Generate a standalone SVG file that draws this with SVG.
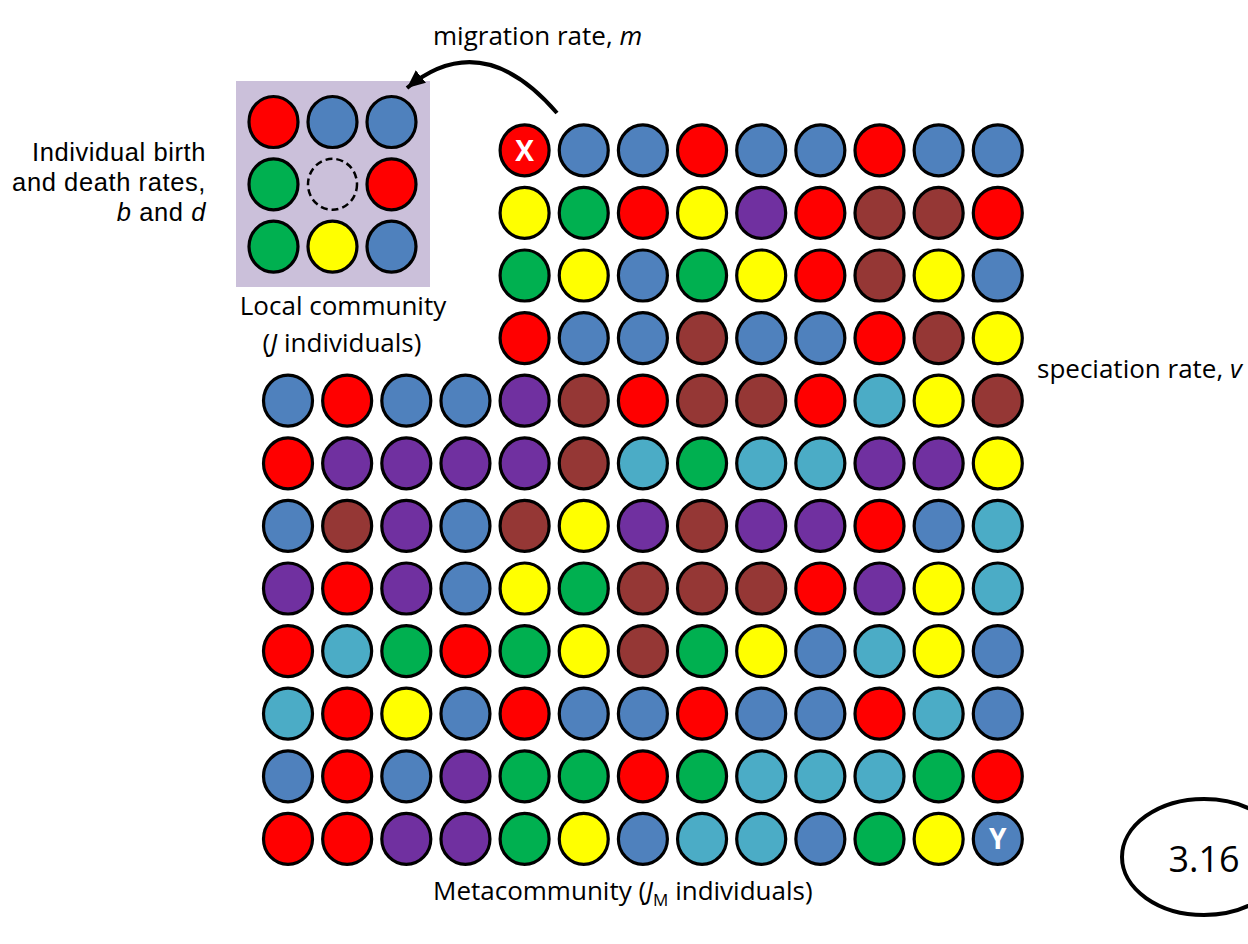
<svg xmlns="http://www.w3.org/2000/svg" width="1248" height="944" viewBox="0 0 1248 944">
<defs>
<style>
.c{stroke:#000;stroke-width:3.2}
.B{fill:#4F81BD}.R{fill:#FF0000}.G{fill:#00B050}.Y{fill:#FFFF00}.P{fill:#7030A0}.Br{fill:#953735}.C{fill:#4BACC6}
.t{font-family:"Open Sans","Noto Sans",sans-serif;font-size:26px;fill:#000}
.t2{font-family:"Liberation Sans",Arial,sans-serif;font-size:25.5px;letter-spacing:0.6px;fill:#000}
.lbl{font-family:"Open Sans","Noto Sans",sans-serif;font-size:28px;font-weight:bold;fill:#fff;text-anchor:middle}
</style>
<marker id="ah" markerUnits="userSpaceOnUse" markerWidth="20" markerHeight="18" refX="18" refY="8" orient="auto">
<path d="M0,0 L18,8 L0,16 z" fill="#000"/>
</marker>
<ellipse id="dot" rx="24.5" ry="25.5"/>
</defs>
<rect width="1248" height="944" fill="#fff"/>

<g id="local-community">
<rect x="236" y="81" width="194" height="206" fill="#CBC0DA"/>
<g class="c">
<use href="#dot" x="273.5" y="122" class="R"/>
<use href="#dot" x="332.5" y="122" class="B"/>
<use href="#dot" x="391.5" y="122" class="B"/>
<use href="#dot" x="273.5" y="184.3" class="G"/>
<use href="#dot" x="391.5" y="184.3" class="R"/>
<use href="#dot" x="273.5" y="246.6" class="G"/>
<use href="#dot" x="332.5" y="246.6" class="Y"/>
<use href="#dot" x="391.5" y="246.6" class="B"/>
</g>
<ellipse cx="332.5" cy="184.3" rx="24.5" ry="25.5" fill="none" stroke="#000" stroke-width="2.5" stroke-dasharray="7 4"/>
</g>

<g id="metacommunity" class="c">
<!-- row 0 -->
<use href="#dot" x="524.6" y="150.3" class="R"/><use href="#dot" x="583.75" y="150.3" class="B"/><use href="#dot" x="642.9" y="150.3" class="B"/><use href="#dot" x="702.05" y="150.3" class="R"/><use href="#dot" x="761.2" y="150.3" class="B"/><use href="#dot" x="820.35" y="150.3" class="B"/><use href="#dot" x="879.5" y="150.3" class="R"/><use href="#dot" x="938.65" y="150.3" class="B"/><use href="#dot" x="997.8" y="150.3" class="B"/>
<!-- row 1 -->
<use href="#dot" x="524.6" y="212.9" class="Y"/><use href="#dot" x="583.75" y="212.9" class="G"/><use href="#dot" x="642.9" y="212.9" class="R"/><use href="#dot" x="702.05" y="212.9" class="Y"/><use href="#dot" x="761.2" y="212.9" class="P"/><use href="#dot" x="820.35" y="212.9" class="R"/><use href="#dot" x="879.5" y="212.9" class="Br"/><use href="#dot" x="938.65" y="212.9" class="Br"/><use href="#dot" x="997.8" y="212.9" class="R"/>
<!-- row 2 -->
<use href="#dot" x="524.6" y="275.5" class="G"/><use href="#dot" x="583.75" y="275.5" class="Y"/><use href="#dot" x="642.9" y="275.5" class="B"/><use href="#dot" x="702.05" y="275.5" class="G"/><use href="#dot" x="761.2" y="275.5" class="Y"/><use href="#dot" x="820.35" y="275.5" class="R"/><use href="#dot" x="879.5" y="275.5" class="Br"/><use href="#dot" x="938.65" y="275.5" class="Y"/><use href="#dot" x="997.8" y="275.5" class="B"/>
<!-- row 3 -->
<use href="#dot" x="524.6" y="338.1" class="R"/><use href="#dot" x="583.75" y="338.1" class="B"/><use href="#dot" x="642.9" y="338.1" class="B"/><use href="#dot" x="702.05" y="338.1" class="Br"/><use href="#dot" x="761.2" y="338.1" class="B"/><use href="#dot" x="820.35" y="338.1" class="B"/><use href="#dot" x="879.5" y="338.1" class="R"/><use href="#dot" x="938.65" y="338.1" class="Br"/><use href="#dot" x="997.8" y="338.1" class="Y"/>
<!-- row 4 -->
<use href="#dot" x="288" y="400.7" class="B"/><use href="#dot" x="347.15" y="400.7" class="R"/><use href="#dot" x="406.3" y="400.7" class="B"/><use href="#dot" x="465.45" y="400.7" class="B"/><use href="#dot" x="524.6" y="400.7" class="P"/><use href="#dot" x="583.75" y="400.7" class="Br"/><use href="#dot" x="642.9" y="400.7" class="R"/><use href="#dot" x="702.05" y="400.7" class="Br"/><use href="#dot" x="761.2" y="400.7" class="Br"/><use href="#dot" x="820.35" y="400.7" class="R"/><use href="#dot" x="879.5" y="400.7" class="C"/><use href="#dot" x="938.65" y="400.7" class="Y"/><use href="#dot" x="997.8" y="400.7" class="Br"/>
<!-- row 5 -->
<use href="#dot" x="288" y="463.3" class="R"/><use href="#dot" x="347.15" y="463.3" class="P"/><use href="#dot" x="406.3" y="463.3" class="P"/><use href="#dot" x="465.45" y="463.3" class="P"/><use href="#dot" x="524.6" y="463.3" class="P"/><use href="#dot" x="583.75" y="463.3" class="Br"/><use href="#dot" x="642.9" y="463.3" class="C"/><use href="#dot" x="702.05" y="463.3" class="G"/><use href="#dot" x="761.2" y="463.3" class="C"/><use href="#dot" x="820.35" y="463.3" class="C"/><use href="#dot" x="879.5" y="463.3" class="P"/><use href="#dot" x="938.65" y="463.3" class="P"/><use href="#dot" x="997.8" y="463.3" class="Y"/>
<!-- row 6 -->
<use href="#dot" x="288" y="525.9" class="B"/><use href="#dot" x="347.15" y="525.9" class="Br"/><use href="#dot" x="406.3" y="525.9" class="P"/><use href="#dot" x="465.45" y="525.9" class="B"/><use href="#dot" x="524.6" y="525.9" class="Br"/><use href="#dot" x="583.75" y="525.9" class="Y"/><use href="#dot" x="642.9" y="525.9" class="P"/><use href="#dot" x="702.05" y="525.9" class="Br"/><use href="#dot" x="761.2" y="525.9" class="P"/><use href="#dot" x="820.35" y="525.9" class="P"/><use href="#dot" x="879.5" y="525.9" class="R"/><use href="#dot" x="938.65" y="525.9" class="B"/><use href="#dot" x="997.8" y="525.9" class="C"/>
<!-- row 7 -->
<use href="#dot" x="288" y="588.5" class="P"/><use href="#dot" x="347.15" y="588.5" class="R"/><use href="#dot" x="406.3" y="588.5" class="P"/><use href="#dot" x="465.45" y="588.5" class="B"/><use href="#dot" x="524.6" y="588.5" class="Y"/><use href="#dot" x="583.75" y="588.5" class="G"/><use href="#dot" x="642.9" y="588.5" class="Br"/><use href="#dot" x="702.05" y="588.5" class="Br"/><use href="#dot" x="761.2" y="588.5" class="Br"/><use href="#dot" x="820.35" y="588.5" class="R"/><use href="#dot" x="879.5" y="588.5" class="P"/><use href="#dot" x="938.65" y="588.5" class="Y"/><use href="#dot" x="997.8" y="588.5" class="C"/>
<!-- row 8 -->
<use href="#dot" x="288" y="651.1" class="R"/><use href="#dot" x="347.15" y="651.1" class="C"/><use href="#dot" x="406.3" y="651.1" class="G"/><use href="#dot" x="465.45" y="651.1" class="R"/><use href="#dot" x="524.6" y="651.1" class="G"/><use href="#dot" x="583.75" y="651.1" class="Y"/><use href="#dot" x="642.9" y="651.1" class="Br"/><use href="#dot" x="702.05" y="651.1" class="G"/><use href="#dot" x="761.2" y="651.1" class="Y"/><use href="#dot" x="820.35" y="651.1" class="B"/><use href="#dot" x="879.5" y="651.1" class="C"/><use href="#dot" x="938.65" y="651.1" class="Y"/><use href="#dot" x="997.8" y="651.1" class="B"/>
<!-- row 9 -->
<use href="#dot" x="288" y="713.7" class="C"/><use href="#dot" x="347.15" y="713.7" class="R"/><use href="#dot" x="406.3" y="713.7" class="Y"/><use href="#dot" x="465.45" y="713.7" class="B"/><use href="#dot" x="524.6" y="713.7" class="R"/><use href="#dot" x="583.75" y="713.7" class="B"/><use href="#dot" x="642.9" y="713.7" class="B"/><use href="#dot" x="702.05" y="713.7" class="R"/><use href="#dot" x="761.2" y="713.7" class="B"/><use href="#dot" x="820.35" y="713.7" class="B"/><use href="#dot" x="879.5" y="713.7" class="R"/><use href="#dot" x="938.65" y="713.7" class="C"/><use href="#dot" x="997.8" y="713.7" class="B"/>
<!-- row 10 -->
<use href="#dot" x="288" y="776.3" class="B"/><use href="#dot" x="347.15" y="776.3" class="R"/><use href="#dot" x="406.3" y="776.3" class="B"/><use href="#dot" x="465.45" y="776.3" class="P"/><use href="#dot" x="524.6" y="776.3" class="G"/><use href="#dot" x="583.75" y="776.3" class="G"/><use href="#dot" x="642.9" y="776.3" class="R"/><use href="#dot" x="702.05" y="776.3" class="G"/><use href="#dot" x="761.2" y="776.3" class="C"/><use href="#dot" x="820.35" y="776.3" class="C"/><use href="#dot" x="879.5" y="776.3" class="C"/><use href="#dot" x="938.65" y="776.3" class="G"/><use href="#dot" x="997.8" y="776.3" class="R"/>
<!-- row 11 -->
<use href="#dot" x="288" y="838.9" class="R"/><use href="#dot" x="347.15" y="838.9" class="R"/><use href="#dot" x="406.3" y="838.9" class="P"/><use href="#dot" x="465.45" y="838.9" class="P"/><use href="#dot" x="524.6" y="838.9" class="G"/><use href="#dot" x="583.75" y="838.9" class="Y"/><use href="#dot" x="642.9" y="838.9" class="B"/><use href="#dot" x="702.05" y="838.9" class="C"/><use href="#dot" x="761.2" y="838.9" class="C"/><use href="#dot" x="820.35" y="838.9" class="B"/><use href="#dot" x="879.5" y="838.9" class="G"/><use href="#dot" x="938.65" y="838.9" class="Y"/><use href="#dot" x="997.8" y="838.9" class="B"/>
</g>

<g id="markers">
<text class="lbl" x="524.6" y="160.5">X</text>
<text class="lbl" x="997.8" y="849">Y</text>
</g>

<g id="connectors">
<path d="M557,113 Q482,26 407,88" fill="none" stroke="#000" stroke-width="4" marker-end="url(#ah)"/>
</g>

<g id="labels">
<text class="t" x="433" y="45">migration rate, <tspan font-style="italic">m</tspan></text>
<text class="t2" text-anchor="end" x="206" y="161">Individual birth</text>
<text class="t2" text-anchor="end" x="206" y="191">and death rates,</text>
<text class="t2" text-anchor="end" x="206" y="221"><tspan font-style="italic">b</tspan> and <tspan font-style="italic">d</tspan></text>
<text class="t" text-anchor="middle" x="343" y="315">Local community</text>
<text class="t" text-anchor="middle" x="342" y="352">(<tspan font-style="italic">J</tspan> individuals)</text>
<text class="t" x="1037" y="378">speciation rate, <tspan font-style="italic">v</tspan></text>
<text class="t" x="433" y="900">Metacommunity (<tspan font-style="italic">J</tspan><tspan font-size="17" dy="6">M</tspan><tspan dy="-6"> individuals)</tspan></text>
</g>

<g id="slide-number">
<ellipse cx="1204" cy="857" rx="82" ry="58" fill="none" stroke="#000" stroke-width="4"/>
<text x="1204" y="872" text-anchor="middle" font-family="'Open Sans','Noto Sans',sans-serif" font-size="36">3.16</text>
</g>
</svg>
